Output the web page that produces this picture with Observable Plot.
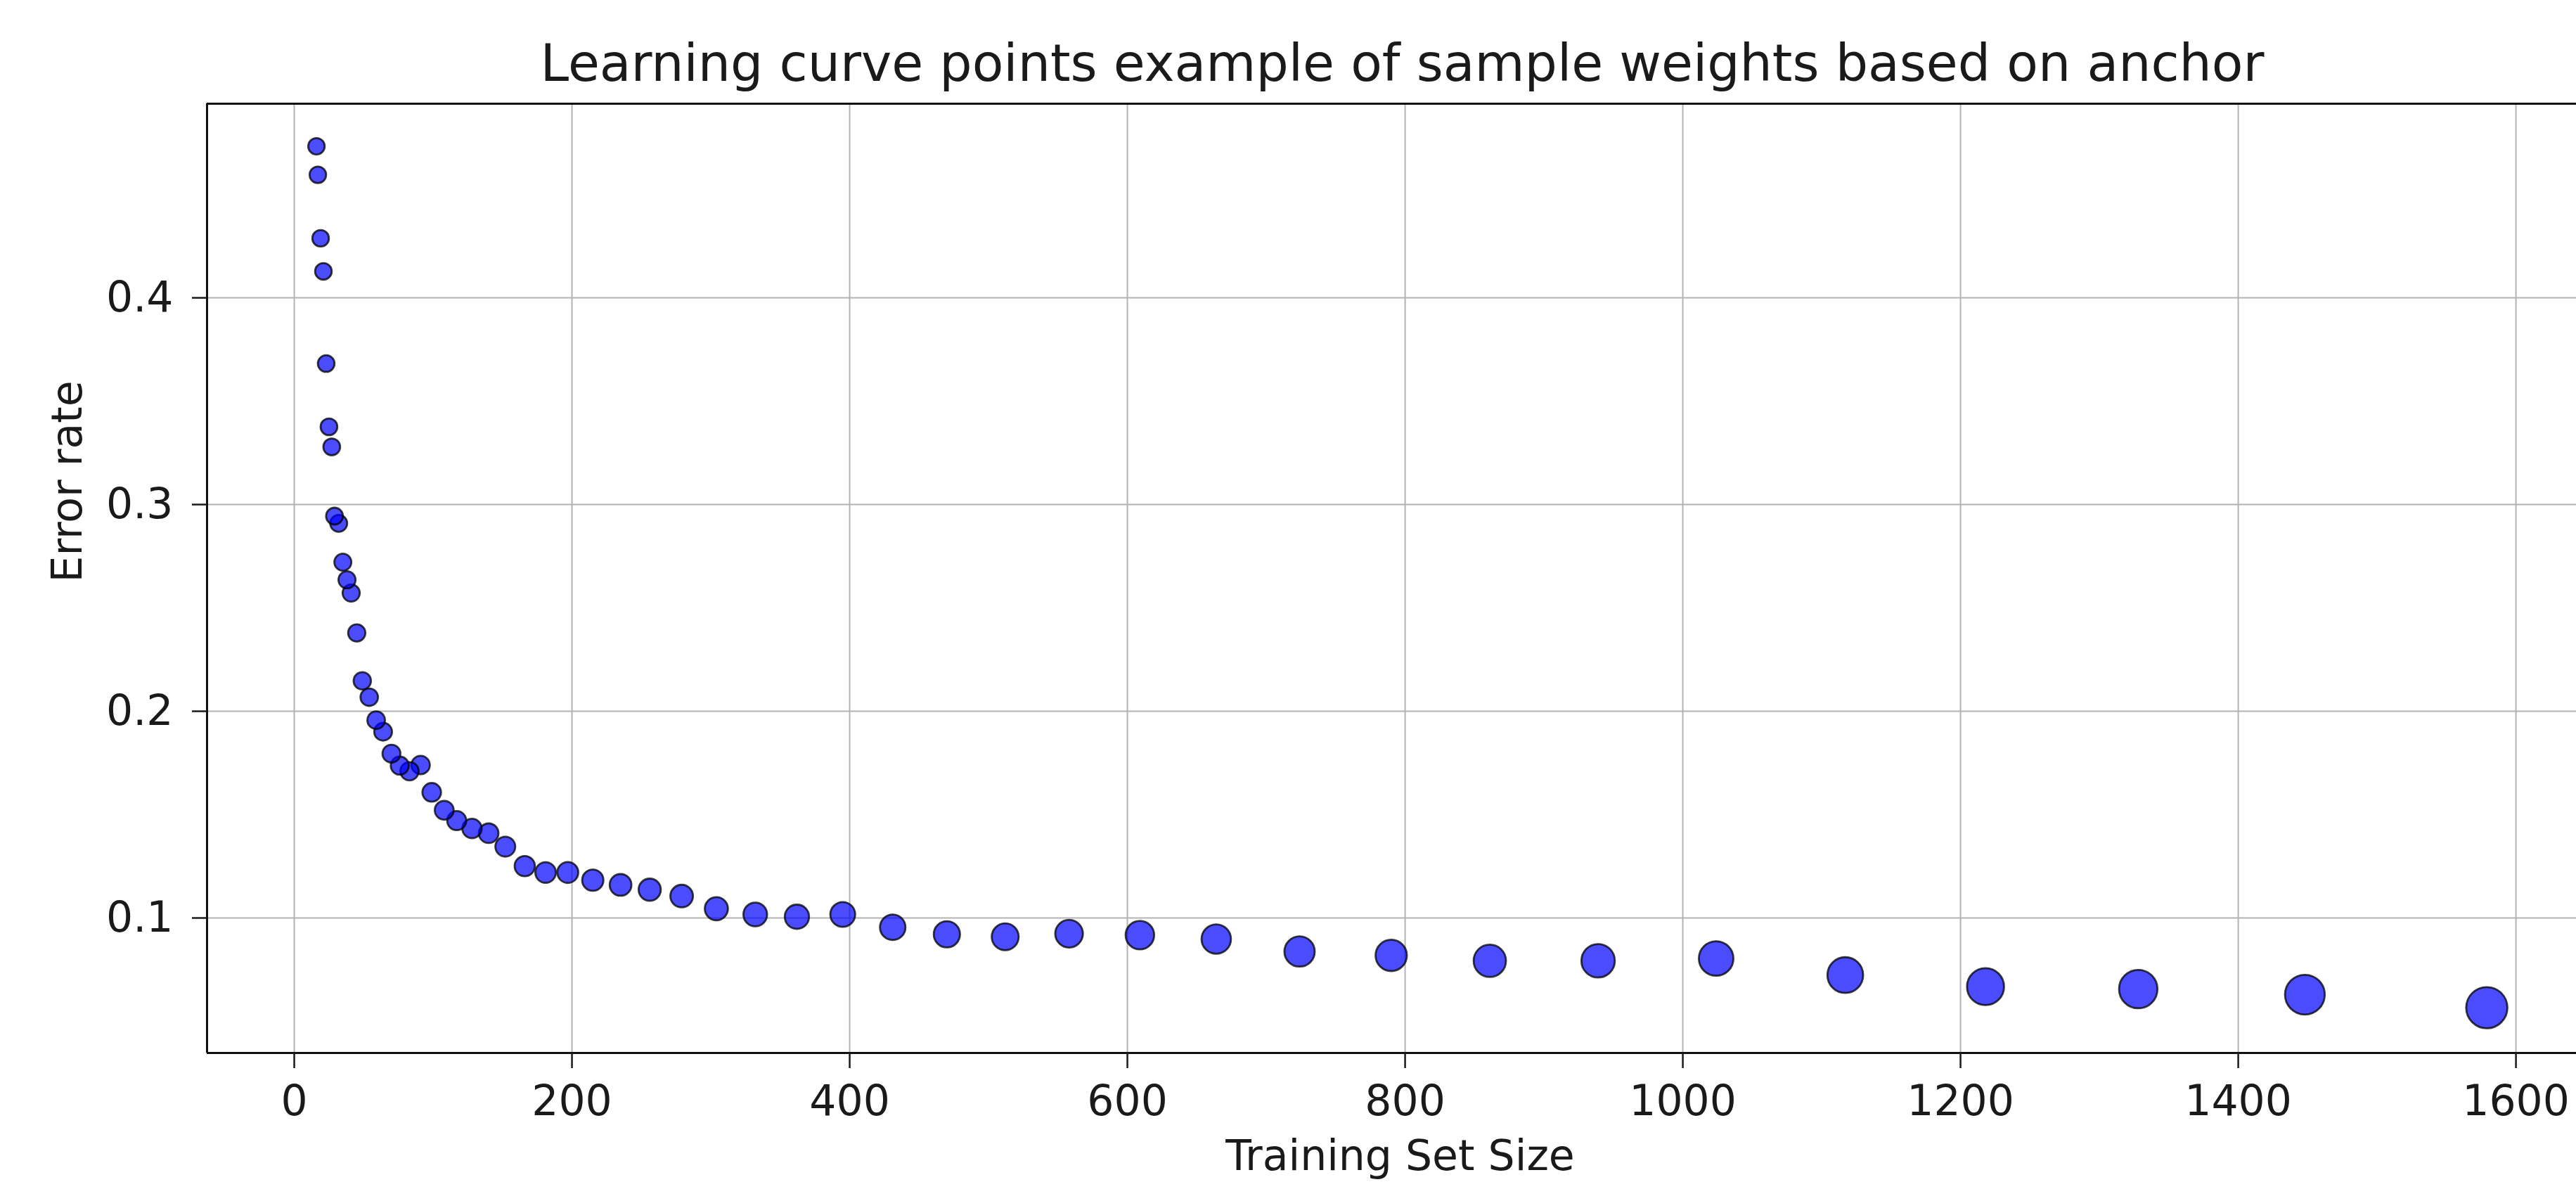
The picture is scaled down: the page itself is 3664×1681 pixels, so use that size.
<!DOCTYPE html>
<html><head><meta charset="utf-8">
<script src="https://cdn.jsdelivr.net/npm/d3@7"></script>
<script src="https://cdn.jsdelivr.net/npm/@observablehq/plot@0.6"></script>
<style>
html,body{margin:0;padding:0;background:#fff;overflow:hidden;}
</style></head><body><div id="chart"></div>
<script>
const trainingSizes = [16, 17, 19, 21, 23, 25, 27, 29, 32, 35, 38, 41, 45, 49, 54, 59, 64, 70, 76, 83, 91, 99, 108, 117, 128, 140, 152, 166, 181, 197, 215, 235, 256, 279, 304, 332, 362, 395, 431, 470, 512, 558, 609, 664, 724, 790, 861, 939, 1024, 1117, 1218, 1328, 1448, 1579];
const errorRates = [0.4733, 0.4595, 0.4288, 0.4128, 0.3682, 0.3376, 0.3279, 0.2944, 0.2909, 0.2721, 0.2636, 0.2572, 0.2379, 0.2147, 0.2068, 0.1957, 0.1901, 0.1795, 0.1737, 0.1710, 0.1740, 0.1608, 0.1521, 0.1471, 0.1433, 0.1410, 0.1345, 0.1251, 0.1220, 0.1220, 0.1183, 0.1160, 0.1137, 0.1106, 0.1045, 0.1017, 0.1006, 0.1017, 0.0955, 0.0921, 0.0909, 0.0924, 0.0917, 0.0898, 0.0838, 0.0819, 0.0793, 0.0793, 0.0804, 0.0724, 0.0668, 0.0656, 0.0629, 0.0566];
const xTicks = [0, 200, 400, 600, 800, 1000, 1200, 1400, 1600];
const yTicks = [0.1, 0.2, 0.3, 0.4];
const titleText = "Learning curve points example of sample weights based on anchor";
const xLabel = "Training Set Size";
const yLabel = "Error rate";
const xDomain = [-62.8, 1643.5];
const yDomain = [0.0347, 0.4939];

const data = trainingSizes.map((s, i) => ({size: s, error: errorRates[i]}));

const plot = Plot.plot({
  width: 3664, height: 1681,
  marginLeft: 294, marginTop: 147, marginBottom: 184, marginRight: 0,
  style: {fontFamily: "DejaVu Sans", background: "#fff", overflow: "hidden", color: "#1a1a1a"},
  x: {domain: xDomain},
  y: {domain: yDomain},
  r: {type: "linear", domain: [0, 100], range: [0, 100]},
  marks: [
    Plot.gridX(xTicks, {stroke: "#b3b3b3", strokeOpacity: 1, strokeWidth: 2}),
    Plot.gridY(yTicks, {stroke: "#b3b3b3", strokeOpacity: 1, strokeWidth: 2}),
    Plot.dot(data, {x: "size", y: "error", r: d => 0.68 * Math.sqrt(d.size + 282),
      fill: "blue", fillOpacity: 0.7, stroke: "black", strokeOpacity: 0.75, strokeWidth: 2.8}),
    Plot.ruleX([xDomain[0]], {stroke: "#111", strokeWidth: 3}),
    Plot.ruleY(yDomain, {stroke: "#111", strokeWidth: 3}),
    Plot.axisX(xTicks, {tickSize: 22, tickPadding: 24, fontSize: 60, label: null, strokeWidth: 2.5, tickFormat: d3.format("d")}),
    Plot.axisY(yTicks, {tickSize: 21, tickPadding: 27, fontSize: 60, label: null, strokeWidth: 2.5, tickFormat: d3.format(".1f")}),
    Plot.text([titleText], {frameAnchor: "top", dx: 15, dy: -33, lineAnchor: "bottom", fontSize: 73, fill: "#1a1a1a"}),
    Plot.text([xLabel], {frameAnchor: "bottom", dx: 12, dy: 124, lineAnchor: "top", fontSize: 60, fill: "#1a1a1a"}),
    Plot.text([yLabel], {frameAnchor: "left", rotate: -90, dx: -198, dy: 6, fontSize: 60, fill: "#1a1a1a"})
  ]
});
document.getElementById("chart").appendChild(plot);
</script>
</body></html>
